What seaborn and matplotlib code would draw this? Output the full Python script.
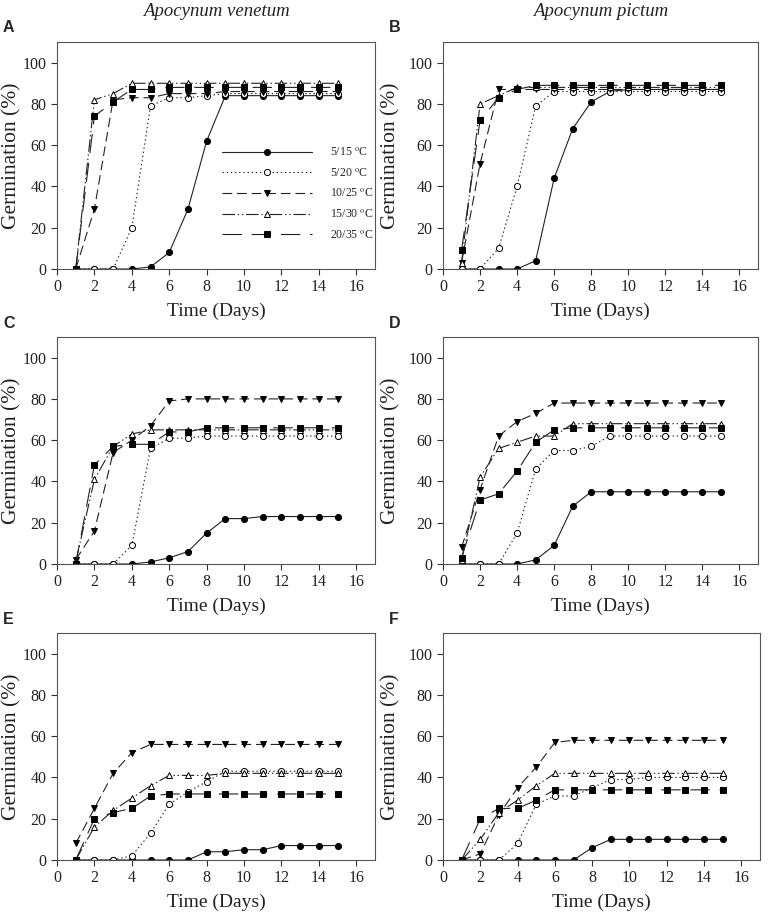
import numpy as np
import pandas as pd
import matplotlib
matplotlib.use("Agg")
import matplotlib.pyplot as plt
import seaborn as sns

sns.set_theme(style="ticks")
plt.rcParams['font.family'] = ['Liberation Serif', 'DejaVu Serif']
plt.rcParams['mathtext.fontset'] = 'stix'
plt.rcParams['lines.scale_dashes'] = False

days = list(range(1, 16))
treatments = ["5/15", "5/20", "10/25", "15/30", "20/35"]

# Panel A - Apocynum venetum
A_5_15  = [0, 0, 0, 0, 1, 8, 29, 62, 84, 84, 84, 84, 84, 84, 84]
A_5_20  = [0, 0, 0, 20, 79, 83, 83, 84, 85, 85, 85, 85, 85, 85, 85]
A_10_25 = [0, 29, 82, 83, 83, 85, 85, 85, 86, 86, 86, 86, 86, 86, 86]
A_15_30 = [0, 82, 85, 90, 90, 90, 90, 90, 90, 90, 90, 90, 90, 90, 90]
A_20_35 = [0, 74, 81, 87, 87, 88, 88, 88, 88, 88, 88, 88, 88, 88, 88]
# Panel B - Apocynum pictum
B_5_15  = [0, 0, 0, 0, 4, 44, 68, 81, 86, 87, 87, 87, 87, 87, 87]
B_5_20  = [0, 0, 10, 40, 79, 86, 86, 86, 86, 86, 86, 86, 86, 86, 86]
B_10_25 = [3, 51, 87, 87, 87, 87, 87, 87, 87, 87, 87, 87, 87, 87, 87]
B_15_30 = [3, 80, 84, 88, 88, 88, 88, 88, 88, 88, 88, 88, 88, 88, 88]
B_20_35 = [9, 72, 83, 87, 89, 89, 89, 89, 89, 89, 89, 89, 89, 89, 89]
# Panel C
C_5_15  = [0, 0, 0, 0, 1, 3, 6, 15, 22, 22, 23, 23, 23, 23, 23]
C_5_20  = [0, 0, 0, 9, 56, 61, 61, 62, 62, 62, 62, 62, 62, 62, 62]
C_10_25 = [2, 16, 54, 60, 67, 79, 80, 80, 80, 80, 80, 80, 80, 80, 80]
C_15_30 = [1, 41, 57, 63, 65, 65, 65, 65, 65, 65, 65, 65, 65, 65, 65]
C_20_35 = [0, 48, 57, 58, 58, 64, 64, 66, 66, 66, 66, 66, 66, 66, 66]
# Panel D
D_5_15  = [0, 0, 0, 0, 2, 9, 28, 35, 35, 35, 35, 35, 35, 35, 35]
D_5_20  = [0, 0, 0, 15, 46, 55, 55, 57, 62, 62, 62, 62, 62, 62, 62]
D_10_25 = [8, 36, 62, 69, 73, 78, 78, 78, 78, 78, 78, 78, 78, 78, 78]
D_15_30 = [2, 42, 56, 59, 62, 62, 68, 68, 68, 68, 68, 68, 68, 68, 68]
D_20_35 = [3, 31, 34, 45, 59, 65, 66, 66, 66, 66, 66, 66, 66, 66, 66]
# Panel E
E_5_15  = [0, 0, 0, 0, 0, 0, 0, 4, 4, 5, 5, 7, 7, 7, 7]
E_5_20  = [0, 0, 0, 2, 13, 27, 33, 38, 43, 43, 43, 43, 43, 43, 43]
E_10_25 = [8, 25, 42, 52, 56, 56, 56, 56, 56, 56, 56, 56, 56, 56, 56]
E_15_30 = [0, 16, 24, 30, 36, 41, 41, 41, 42, 42, 42, 42, 42, 42, 42]
E_20_35 = [0, 20, 23, 25, 31, 32, 32, 32, 32, 32, 32, 32, 32, 32, 32]
# Panel F
F_5_15  = [0, 0, 0, 0, 0, 0, 0, 6, 10, 10, 10, 10, 10, 10, 10]
F_5_20  = [0, 0, 0, 8, 27, 31, 31, 35, 39, 39, 40, 40, 40, 40, 40]
F_10_25 = [0, 3, 22, 35, 45, 57, 58, 58, 58, 58, 58, 58, 58, 58, 58]
F_15_30 = [0, 10, 23, 29, 36, 42, 42, 42, 42, 42, 42, 42, 42, 42, 42]
F_20_35 = [0, 20, 25, 25, 29, 34, 34, 34, 34, 34, 34, 34, 34, 34, 34]

panels = {
    "A": [A_5_15, A_5_20, A_10_25, A_15_30, A_20_35],
    "B": [B_5_15, B_5_20, B_10_25, B_15_30, B_20_35],
    "C": [C_5_15, C_5_20, C_10_25, C_15_30, C_20_35],
    "D": [D_5_15, D_5_20, D_10_25, D_15_30, D_20_35],
    "E": [E_5_15, E_5_20, E_10_25, E_15_30, E_20_35],
    "F": [F_5_15, F_5_20, F_10_25, F_15_30, F_20_35],
}
titles = {"A": "Apocynum venetum", "B": "Apocynum pictum"}

styles = [
    dict(marker="o", mfc="black", linestyle="-"),
    dict(marker="o", mfc="white", linestyle=(0, (1, 2))),
    dict(marker="v", mfc="black", linestyle=(0, (7, 3.5))),
    dict(marker="^", mfc="white", linestyle=(0, (9, 2, 1, 2, 1, 2))),
    dict(marker="s", mfc="black", linestyle=(0, (14, 7))),
]

W, H = 770, 921
fig = plt.figure(figsize=(W / 100, H / 100), dpi=100)

# axes boxes in pixels: left, top, right, bottom
boxes = {
    "A": (57, 42, 375, 269), "B": (443, 42, 758, 269),
    "C": (57, 337, 375, 564), "D": (443, 337, 758, 564),
    "E": (57, 633, 375, 860), "F": (443, 633, 760, 860),
}
ylabel_x = {"A": 12, "C": 12, "E": 12, "B": 391, "D": 391, "F": 391}

line_color = "#222222"
for key, series in panels.items():
    l, t, r, b = boxes[key]
    ax = fig.add_axes([l / W, 1 - b / H, (r - l) / W, (b - t) / H])
    for name, vals, st in zip(treatments, series, styles):
        df = pd.DataFrame({"Day": days, "Germination": vals})
        sns.lineplot(data=df, x="Day", y="Germination", ax=ax,
                     color=line_color, linewidth=0.8, linestyle=st["linestyle"],
                     marker=st["marker"], markersize=4.4,
                     markerfacecolor=st["mfc"], markeredgecolor="black",
                     markeredgewidth=0.7,
                     label=name + r" $^{\mathrm{o}}$C")
    ax.set_xlim(0, 17)
    ax.set_ylim(0, 110)
    ax.set_xticks(range(0, 17, 2))
    ax.set_yticks(range(0, 101, 20))
    ax.tick_params(direction="out", length=4, width=0.8, labelsize=11.5,
                   colors="#333333", labelcolor="#222222")
    for s in ax.spines.values():
        s.set_color("#555555")
        s.set_linewidth(0.8)
    ax.set_xlabel("Time (Days)", fontsize=14, color="#222222", labelpad=5)
    ax.set_ylabel("")
    fig.text(ylabel_x[key] / W, 1 - ((t + b) / 2) / H, "Germination (%)",
             rotation=90, fontsize=15.5, color="#222222",
             ha="center", va="center")
    fig.text((l - 54) / W, 1 - (t - 14) / H, key, fontsize=11.5, fontweight="bold",
             family=["Liberation Sans", "DejaVu Sans"], va="center", ha="left")
    if key in titles:
        fig.text((l + r) / 2 / W, 1 - 12 / H, titles[key], fontsize=13.5,
                 style="italic", ha="center", va="center", color="#222222")
    if key == "A":
        ax.legend(loc="upper left", bbox_to_anchor=(0.505, 0.56),
                  frameon=False, fontsize=8.5, handlelength=7.6,
                  labelspacing=0.72, handletextpad=1.5, borderaxespad=0)
    elif ax.get_legend():
        ax.get_legend().remove()

fig.savefig("out.png", dpi=100)
